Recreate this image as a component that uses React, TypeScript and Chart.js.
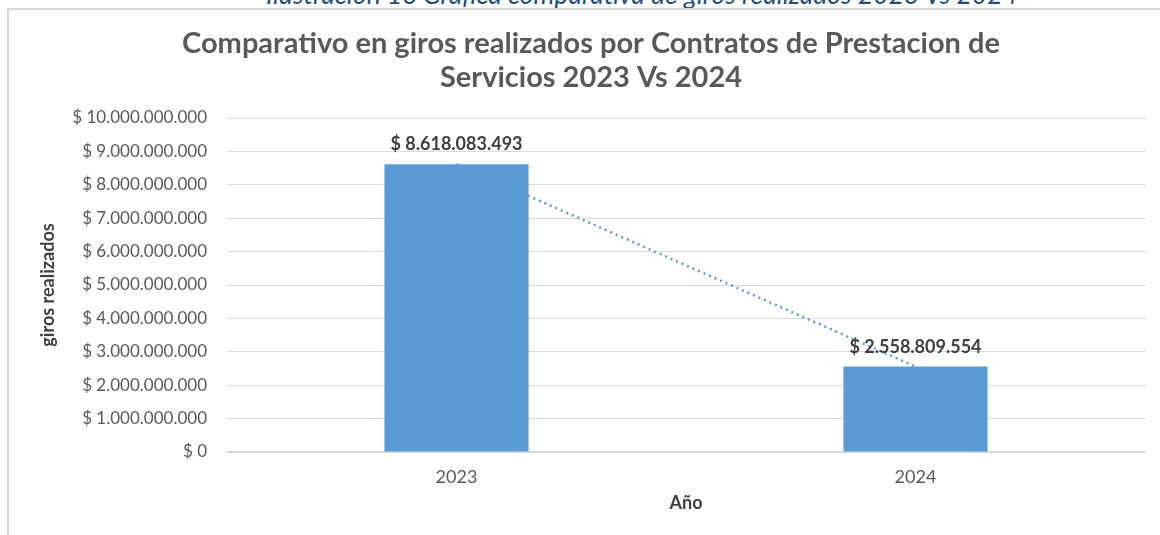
import React, { useEffect, useRef } from "react";
import { Chart, registerables } from "chart.js";

Chart.register(...registerables);

const categories = ["2023", "2024"];
const girosRealizados = [8618083493, 2558809554];
const yMin = 0;
const yMax = 10000000000;
const yStep = 1000000000;
const titleLines = [
  "Comparativo en giros realizados por Contratos de Prestacion de",
  "Servicios 2023 Vs 2024",
];
const caption = "Ilustración 16 Gráfica comparativa de giros realizados 2023 Vs 2024";
const xTitle = "Año";
const yTitle = "giros realizados";

const FONT = "Lato, 'Open Sans', sans-serif";

function fmt(v: number): string {
  return "$ " + Math.round(v).toString().replace(/\B(?=(\d{3})+(?!\d))/g, ".");
}

const labelPlugin = {
  id: "barLabels",
  afterDatasetsDraw(chart: any) {
    const meta = chart.getDatasetMeta(0);
    const ctx = chart.ctx;
    ctx.save();
    ctx.font = "bold 18px " + FONT;
    ctx.fillStyle = "#404040";
    ctx.textAlign = "center";
    ctx.textBaseline = "alphabetic";
    meta.data.forEach((el: any, i: number) => {
      ctx.fillText(fmt(girosRealizados[i]), el.x, el.y - 14);
    });
    ctx.restore();
  },
};

export default function App() {
  const ref = useRef<HTMLCanvasElement | null>(null);

  useEffect(() => {
    if (!ref.current) return;
    const chart = new Chart(ref.current, {
      type: "bar",
      data: {
        labels: categories,
        datasets: [
          {
            type: "bar",
            label: "giros",
            data: girosRealizados,
            backgroundColor: "#5B9BD5",
            borderWidth: 0,
            barPercentage: 0.314,
            categoryPercentage: 1,
            order: 2,
          },
          {
            type: "line",
            label: "tendencia",
            data: girosRealizados,
            borderColor: "#5B9BD5",
            borderWidth: 2.5,
            borderDash: [2, 4],
            pointRadius: 0,
            fill: false,
            order: 1,
          } as any,
        ],
      },
      options: {
        animation: false,
        responsive: false,
        maintainAspectRatio: false,
        layout: { padding: { left: 37, right: 15, top: 10, bottom: 21 } },
        plugins: {
          legend: { display: false },
          tooltip: { enabled: false },
          title: {
            display: true,
            text: titleLines,
            color: "#595959",
            font: { family: FONT, size: 29, weight: "bold", lineHeight: 34 / 29 },
            padding: { top: 17, bottom: 23 },
          },
        },
        scales: {
          x: {
            grid: { display: false, drawTicks: false },
            border: { display: true, color: "#d9d9d9", width: 1.5 },
            ticks: { color: "#595959", font: { family: FONT, size: 18 }, padding: 14 },
            title: {
              display: true,
              text: xTitle,
              color: "#404040",
              font: { family: FONT, size: 18, weight: "bold" },
              padding: 0,
            },
            afterFit(scale: any) {
              scale.height = 62;
            },
          },
          y: {
            min: yMin,
            max: yMax,
            grid: { color: "#d9d9d9", lineWidth: 1, drawTicks: false },
            border: { display: false },
            ticks: {
              stepSize: yStep,
              color: "#595959",
              font: { family: FONT, size: 17 },
              padding: 20,
              callback: (v: any) => fmt(Number(v)),
            },
            title: {
              display: true,
              text: yTitle,
              color: "#404040",
              font: { family: FONT, size: 18, weight: "bold" },
              padding: 0,
            },
            afterFit(scale: any) {
              scale.width = 190;
            },
          },
        },
      },
      plugins: [labelPlugin],
    });
    return () => chart.destroy();
  }, []);

  return (
    <div
      style={{
        position: "fixed",
        left: 0,
        top: 0,
        width: 1160,
        height: 535,
        overflow: "hidden",
        background: "#ffffff",
      }}
    >
      <div
        style={{
          position: "absolute",
          left: 62,
          top: -19,
          width: 1160,
          textAlign: "center",
          fontFamily: FONT,
          fontStyle: "italic",
          fontSize: 26.5,
          lineHeight: "26px",
          color: "#1F4E79",
          whiteSpace: "nowrap",
        }}
      >
        {caption}
      </div>
      <div
        style={{
          position: "absolute",
          left: 7,
          top: 8,
          width: 1300,
          height: 700,
          borderLeft: "2px solid #d9d9d9",
          borderTop: "2px solid #d9d9d9",
          background: "#ffffff",
        }}
      />
      <canvas
        ref={ref}
        width={1160}
        height={535}
        style={{ position: "absolute", left: 0, top: 0, width: 1160, height: 535 }}
      />
    </div>
  );
}
